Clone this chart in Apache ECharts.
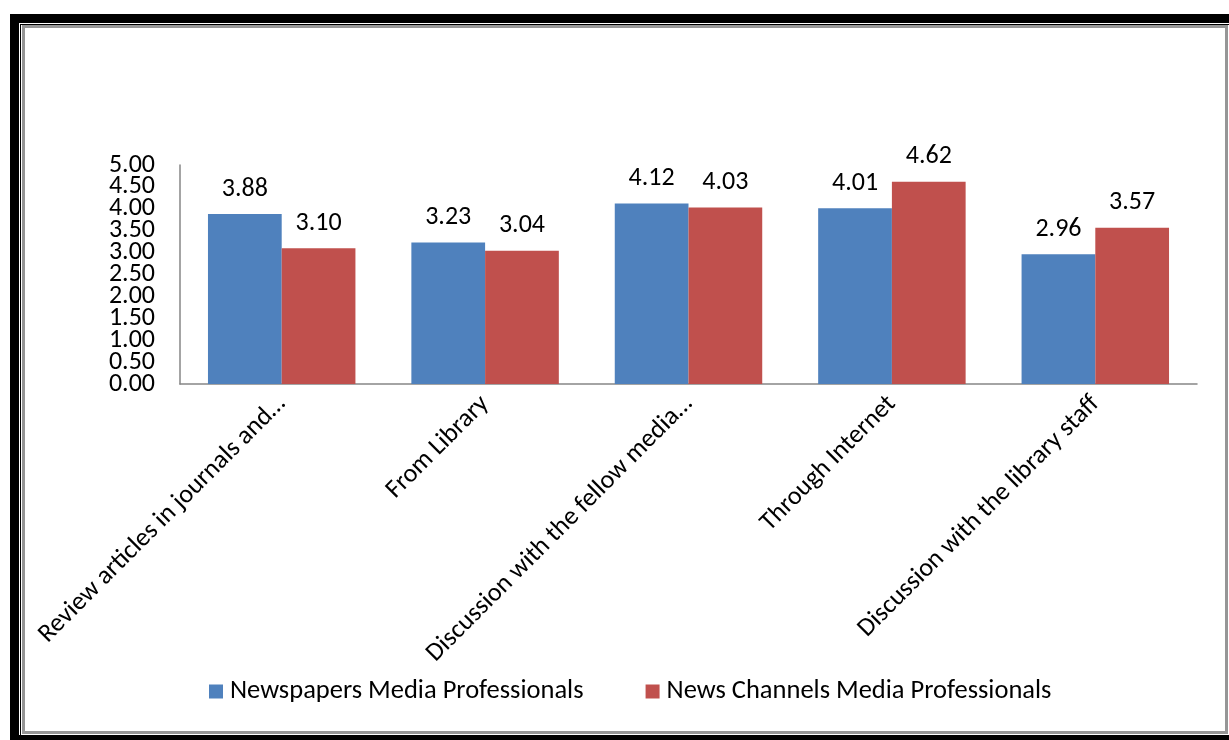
<!DOCTYPE html>
<html>
<head>
<meta charset="utf-8">
<script src="https://cdn.jsdelivr.net/npm/echarts@6/dist/echarts.min.js"></script>
<style>
html,body{margin:0;padding:0;background:#fff;overflow:hidden;}
#wrap{position:relative;width:1229px;height:740px;overflow:hidden;}
.b{position:absolute;box-sizing:border-box;}
#chart{position:absolute;left:0;top:0;width:1229px;height:740px;}
</style>
</head>
<body>
<div id="wrap">
  <div class="b" style="left:10px;top:14px;width:1240px;height:740px;background:#000;"></div>
  <div class="b" style="left:19px;top:23px;width:1220px;height:712px;background:#fff;"></div>
  <div class="b" style="left:20px;top:24px;width:1220px;height:720px;border-left:1px solid #000;border-top:1px solid #000;"></div>
  <div class="b" style="left:22px;top:25px;width:1206px;height:709px;border:3px solid #969696;"></div>
  <div id="chart"></div>
</div>
<script>
var categories = ["Review articles in journals and…", "From Library", "Discussion with the fellow media…", "Through Internet", "Discussion with the library staff"];
var newspapers = [3.88, 3.23, 4.12, 4.01, 2.96];
var newsChannels = [3.10, 3.04, 4.03, 4.62, 3.57];
var seriesNames = ["Newspapers Media Professionals", "News Channels Media Professionals"];
var yTickLabels = ["0.00", "0.50", "1.00", "1.50", "2.00", "2.50", "3.00", "3.50", "4.00", "4.50", "5.00"];

var FONT = "Carlito, 'Liberation Sans Narrow', 'Noto Sans', sans-serif";
var chart = echarts.init(document.getElementById('chart'), null, {renderer: 'canvas'});
var lbl = {show: true, position: 'top', distance: 12, color: '#000', fontSize: 26, fontFamily: FONT, formatter: function(p){return p.value.toFixed(2);}};
chart.setOption({
  animation: false,
  backgroundColor: 'transparent',
  grid: {left: 180, top: 165, right: 32, bottom: 356, containLabel: false},
  legend: {
    data: seriesNames, bottom: 30, left: 204, itemWidth: 14, itemHeight: 14, itemGap: 62,
    icon: 'rect', textStyle: {fontSize: 26.5, fontFamily: FONT, color: '#000', padding: [0, 0, 0, 2]}
  },
  xAxis: {
    type: 'category', data: categories,
    axisLine: {lineStyle: {color: '#868686', width: 1.5}},
    axisTick: {show: false},
    axisLabel: {rotate: 45, interval: 0, fontSize: 26, fontFamily: FONT, color: '#000', margin: 16}
  },
  yAxis: [
    {
      type: 'value', min: 0, max: 5, interval: 0.5,
      splitLine: {show: false},
      axisLine: {show: true, lineStyle: {color: '#868686', width: 1.5}},
      axisTick: {show: false},
      axisLabel: {show: false}
    },
    {
      type: 'category', data: yTickLabels, boundaryGap: false, position: 'left',
      axisLine: {show: false}, axisTick: {show: false}, splitLine: {show: false},
      axisLabel: {interval: 0, fontSize: 26, fontFamily: FONT, color: '#000', margin: 25}
    }
  ],
  series: [
    {name: seriesNames[0], type: 'bar', data: newspapers, barGap: '0%', barCategoryGap: '27.5%', itemStyle: {color: '#4F81BD'}, label: lbl},
    {name: seriesNames[1], type: 'bar', data: newsChannels, itemStyle: {color: '#C0504D'}, label: lbl}
  ]
});
</script>
</body>
</html>
